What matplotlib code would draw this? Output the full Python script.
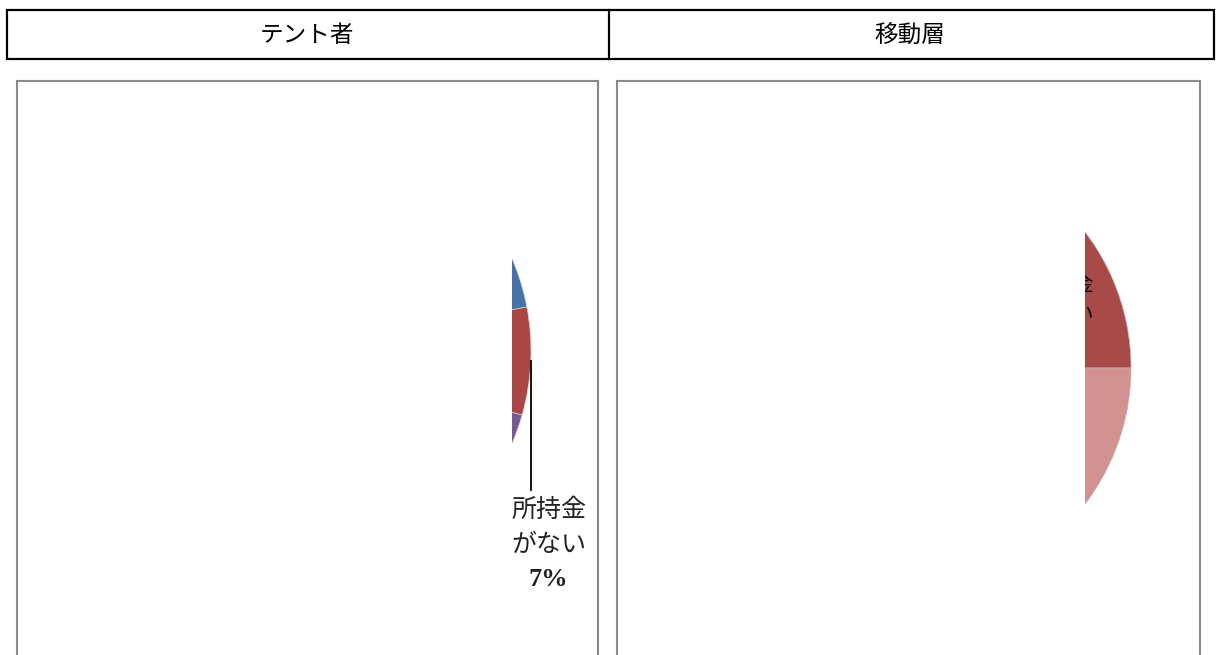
import numpy as np
import matplotlib.pyplot as plt
from matplotlib.patches import Rectangle
from matplotlib.path import Path
from matplotlib.transforms import Bbox, TransformedBbox

plt.rcParams['font.family'] = ['Noto Sans CJK JP', 'DejaVu Sans']

W, H = 1216, 655

headers = ['テント者', '移動層']

# テント者 pie (only a sliver of it is visible in the source)
tent_vals = [22, 7.4, 70.6]
tent_colors = ['#4672A8', '#AA4643', '#765B93']
tent_label = ['所持金', 'がない']

# 移動層 pie
move_vals = [12, 13, 75]
move_colors = ['#89A54E', '#A84A47', '#D29390']
move_label = ['所持金', 'がない']


def py(y):
    # pixel row -> data y
    return H - y


def strip(x0, x1):
    return Path([(x0, 0), (x1, 0), (x1, H), (x0, H), (x0, 0)], closed=True)


def clip_to(arts, x0, x1):
    # patches/lines take a clip path, text only honours a clip box
    box = TransformedBbox(Bbox.from_extents(x0, 0, x1, H), ax.transData)
    for a in arts:
        a.set_clip_on(True)
        if isinstance(a, plt.Text):
            a.set_clip_box(box)
        else:
            a.set_clip_path(strip(x0, x1), ax.transData)


fig = plt.figure(figsize=(W / 100, H / 100), dpi=100)
ax = fig.add_axes([0, 0, 1, 1])

# header table
ax.add_patch(Rectangle((7, py(59)), 1207, 49, fill=False, ec='black', lw=1.6))
ax.plot([609, 609], [py(10), py(59)], color='black', lw=1.6)
ax.text(307, py(35), headers[0], ha='center', va='center', fontsize=17)
ax.text(910, py(35), headers[1], ha='center', va='center', fontsize=17)

# panel frames (run off the bottom)
ax.add_patch(Rectangle((17, py(700)), 581, 619, fill=False, ec='#8a8a8a', lw=1.5))
ax.add_patch(Rectangle((617, py(700)), 583, 619, fill=False, ec='#8a8a8a', lw=1.5))

# left pie, clipped to a thin strip
c1, r1 = (296, py(351)), 235
w1, _ = ax.pie(tent_vals, colors=tent_colors, startangle=90, counterclock=False,
               center=c1, radius=r1, wedgeprops=dict(ec='#d8d0d0', lw=0.5))

red = w1[1]
mid = np.deg2rad((red.theta1 + red.theta2) / 2)
x0 = c1[0] + r1 * np.cos(mid)
y0 = c1[1] + r1 * np.sin(mid)
y1 = py(490)
arts1 = list(w1)
ln, = ax.plot([x0, x0], [y0, y1], color='black', lw=1.3)
arts1.append(ln)
tx = x0 + 18
for i, s in enumerate(tent_label):
    arts1.append(ax.text(tx, y1 - 20 - 35 * i, s, ha='center', va='center',
                         fontsize=18, color='#222222'))
pct = 100 * tent_vals[1] / sum(tent_vals)
arts1.append(ax.text(tx, y1 - 90, f'{pct:.0f}%', ha='center', va='center',
                     fontsize=19, fontweight='bold', family='Liberation Serif',
                     color='#222222'))
clip_to(arts1, 512, 598)

# right pie, clipped the same way
c2, r2 = (907, py(368)), 224
w2, _ = ax.pie(move_vals, colors=move_colors, startangle=90, counterclock=False,
               center=c2, radius=r2, wedgeprops=dict(ec='#c0b0b0', lw=0.5))

dr = w2[1]
mid2 = np.deg2rad((dr.theta1 + dr.theta2) / 2)
lx = c2[0] + 0.76 * r2 * np.cos(mid2)
ly = c2[1] + 0.76 * r2 * np.sin(mid2)
arts2 = list(w2)
for i, s in enumerate(move_label):
    arts2.append(ax.text(lx, ly + 15 - 30 * i, s, ha='center', va='center',
                         fontsize=15, color='black'))
clip_to(arts2, 1085, 1199)

ax.set_xlim(0, W)
ax.set_ylim(0, H)
ax.set_aspect('auto')
ax.axis('off')

fig.savefig('out.png', dpi=100)
